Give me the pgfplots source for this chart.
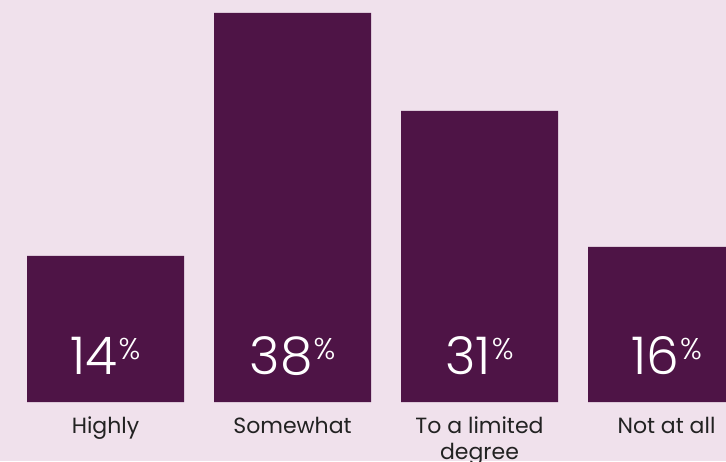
\documentclass[border=0pt]{standalone}
\usepackage{fontspec}
\setmainfont{Poppins}
\newfontfamily\numfont{Poppins Light}
\usepackage{pgfplots}
\pgfplotsset{compat=1.18}
\definecolor{bg}{HTML}{F0E1EC}
\definecolor{bar}{HTML}{4E1446}
\definecolor{txt}{HTML}{222222}
\begin{document}
\begin{tikzpicture}
\fill[bg] (0,-59pt) rectangle (726pt,402pt);
\begin{axis}[
  at={(0,0)}, anchor=south west,
  scale only axis, width=726pt, height=402pt,
  xmin=0, xmax=726, ymin=0, ymax=39.26,
  axis line style={draw=none}, tick style={draw=none},
  ytick=\empty,
  xtick={105.5,292.5,479.5,666.5},
  xticklabels={\strut Highly,\strut Somewhat,{\strut To a limited\\degree},\strut Not at all},
  xticklabel style={font=\fontsize{22}{26}\selectfont, text=txt, align=center, anchor=north, inner sep=0pt, yshift=-9pt},
  ybar, bar width=157pt, bar shift=0pt,
]
\addplot[fill=bar, draw=none] coordinates {(105.5,14.26) (292.5,38) (479.5,28.42) (666.5,15.14)};
\addplot[draw=none, mark=none, nodes near coords, point meta=explicit symbolic,
  nodes near coords={\numfont\fontsize{52}{52}\selectfont\pgfplotspointmeta\hspace{1pt}\raisebox{15pt}{\fontsize{30}{30}\selectfont\%}},
  every node near coord/.style={anchor=center, text=white, inner sep=0pt}]
  table[meta=label] {
x y label
105.5 4.5 14
292.5 4.5 38
479.5 4.5 31
666.5 4.5 16
};
\end{axis}
\pgfresetboundingbox
\path (0,-59pt) rectangle (726pt,402pt);
\end{tikzpicture}
\end{document}
